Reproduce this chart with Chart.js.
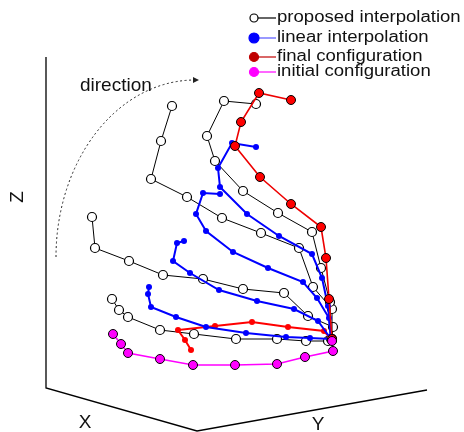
<!DOCTYPE html>
<html>
<head>
<meta charset="utf-8">
<script src="https://cdn.jsdelivr.net/npm/chart.js@4.4.1/dist/chart.umd.min.js"></script>
<style>
    body { margin: 0; background: #fff; }
    #wrap { width: 464px; height: 432px; }
</style>
</head>
<body>
<div id="wrap"><canvas id="chart" width="464" height="432"></canvas></div>
<script>
// projected 2D positions of every joint (picture space, y grows downward), base first
const proposedA = [[331,339],[330,302],[321,268],[312,232],[278,213],[243,191],[215,161],[207,136],[224,101],[256,104]];
const proposedB = [[332,339],[332,309],[313,287],[299,248],[261,233],[222,218],[187,197],[151,179],[161,141],[172,106]];
const proposedC = [[332,339],[333,327],[308,316],[284,293],[243,289],[203,279],[163,275],[129,261],[95,248],[92,217]];
const proposedD = [[332,340],[328,341],[306,341],[277,339],[236,339],[194,334],[160,330],[128,317],[119,310],[112,299]];

const linearA = [[331,339],[328,306],[322,278],[312,254],[279,236],[247,214],[220,187],[218,168],[232,143],[256,147]];
const linearB = [[331,339],[329,318],[317,298],[303,282],[268,268],[233,252],[206,231],[196,214],[203,193],[220,194]];
const linearC = [[331,339],[318,321],[294,309],[257,301],[219,290],[190,273],[173,261],[177,243],[184,241]];
const linearD = [[331,339],[310,338],[286,337],[246,333],[206,327],[176,317],[151,307],[148,294],[149,287]];
const linearFirst = [[331,339],[324,331],[288,327],[252,322],[215,326],[178,330],[185,340],[191,350]];

const finalConf = [[332,339],[329,299],[326,258],[321,227],[291,204],[260,177],[235,146],[241,122],[259,93],[291,100]];
const initialConf = [[332,341],[333,351],[305,357],[277,364],[235,365],[193,365],[160,359],[128,353],[121,344],[113,334]];

// box edges of the 3D frame
const frameX = [46, 46, 197, 427];
const frameY = [57, 388, 431, 390];

const legendLabels = ['proposed interpolation', 'linear interpolation', 'final configuration', 'initial configuration'];
const legendY = [18, 38, 57, 72];

const toPts = arr => arr.map(p => ({x: p[0], y: p[1]}));

const proposedStyle = {
    borderColor: '#000', borderWidth: 1,
    pointBackgroundColor: '#fff', pointBorderColor: '#000',
    pointRadius: 4.5, pointBorderWidth: 1.2, order: 4
};
const linearStyle = {
    borderColor: '#0000ff', borderWidth: 2,
    pointBackgroundColor: '#0000ff', pointBorderColor: '#0000ff',
    pointRadius: 3, pointBorderWidth: 0, order: 2
};

const datasets = [];
[proposedA, proposedB, proposedC, proposedD].forEach(c => {
    datasets.push(Object.assign({data: toPts(c)}, proposedStyle));
});
datasets.push({
    data: toPts(linearFirst), borderColor: '#ff0000', borderWidth: 2,
    pointBackgroundColor: '#ff0000', pointBorderColor: '#ff0000',
    pointRadius: 3, pointBorderWidth: 0, order: 3
});
[linearA, linearB, linearC, linearD].forEach(c => {
    datasets.push(Object.assign({data: toPts(c)}, linearStyle));
});
datasets.push({
    data: toPts(finalConf), borderColor: '#ee0000', borderWidth: 1.6,
    pointBackgroundColor: '#ff0000', pointBorderColor: '#000',
    pointRadius: 4.5, pointBorderWidth: 1, order: 1
});
datasets.push({
    data: toPts(initialConf), borderColor: '#ff00ff', borderWidth: 1.6,
    pointBackgroundColor: '#ff00ff', pointBorderColor: '#000',
    pointRadius: 4.5, pointBorderWidth: 1, order: 0
});

const decorations = {
    id: 'decorations',
    afterDraw(chart) {
        const ctx = chart.ctx;
        const xs = chart.scales.x, ys = chart.scales.y;
        const px = v => xs.getPixelForValue(v);
        const py = v => ys.getPixelForValue(v);
        ctx.save();

        // frame
        ctx.strokeStyle = '#000';
        ctx.lineWidth = 1.3;
        ctx.beginPath();
        frameX.forEach((x, i) => i ? ctx.lineTo(px(x), py(frameY[i])) : ctx.moveTo(px(x), py(frameY[i])));
        ctx.stroke();

        // axis letters
        ctx.fillStyle = '#111';
        ctx.font = '19px "Liberation Sans", Arial, sans-serif';
        ctx.textAlign = 'center';
        ctx.textBaseline = 'middle';
        ctx.fillText('X', 85, 423);
        ctx.fillText('Y', 318, 425);
        ctx.save();
        ctx.translate(18, 197);
        ctx.rotate(-Math.PI / 2);
        ctx.fillText('Z', 0, 0);
        ctx.restore();

        // direction arrow
        ctx.font = '19px "Liberation Sans", Arial, sans-serif';
        ctx.textAlign = 'left';
        ctx.fillText('direction', 80, 86);
        ctx.strokeStyle = '#222';
        ctx.lineWidth = 1;
        ctx.setLineDash([2, 2.5]);
        ctx.beginPath();
        ctx.ellipse(px(195), py(257), 139, 177, 0, Math.PI, 1.5 * Math.PI);
        ctx.stroke();
        ctx.setLineDash([]);
        ctx.fillStyle = '#222';
        ctx.beginPath();
        ctx.moveTo(199, 80);
        ctx.lineTo(193, 77);
        ctx.lineTo(193, 83);
        ctx.closePath();
        ctx.fill();

        // legend
        const marks = [
            {fill: '#fff', stroke: '#000', line: '#000', r: 4},
            {fill: '#0000ff', stroke: '#0000ff', line: '#5555ff', r: 5},
            {fill: '#c00000', stroke: '#c00000', line: '#c00000', r: 4.5},
            {fill: '#ff00ff', stroke: '#ff00ff', line: '#ff00ff', r: 4.5}
        ];
        ctx.font = '16px "Liberation Sans", Arial, sans-serif';
        ctx.textBaseline = 'middle';
        legendLabels.forEach((label, i) => {
            const y = legendY[i], m = marks[i];
            ctx.strokeStyle = m.line;
            ctx.lineWidth = 1.2;
            ctx.beginPath();
            ctx.moveTo(256, y);
            ctx.lineTo(276, y);
            ctx.stroke();
            ctx.beginPath();
            ctx.arc(254, y, m.r, 0, Math.PI * 2);
            ctx.fillStyle = m.fill;
            ctx.fill();
            ctx.strokeStyle = m.stroke;
            ctx.stroke();
            ctx.fillStyle = '#111';
            ctx.save();
            ctx.translate(277, y);
            ctx.scale(1.16, 1);
            ctx.fillText(label, 0, 0);
            ctx.restore();
        });
        ctx.restore();
    }
};

new Chart('chart', {
    type: 'scatter',
    data: {datasets: datasets.map(d => Object.assign({showLine: true, tension: 0}, d))},
    options: {
        responsive: false,
        animation: false,
        devicePixelRatio: 1,
        layout: {padding: 0, autoPadding: false},
        plugins: {legend: {display: false}, tooltip: {enabled: false}},
        scales: {
            x: {type: 'linear', min: 0, max: 464, display: false},
            y: {type: 'linear', min: 0, max: 432, reverse: true, display: false}
        }
    },
    plugins: [decorations]
});
</script>
</body>
</html>
